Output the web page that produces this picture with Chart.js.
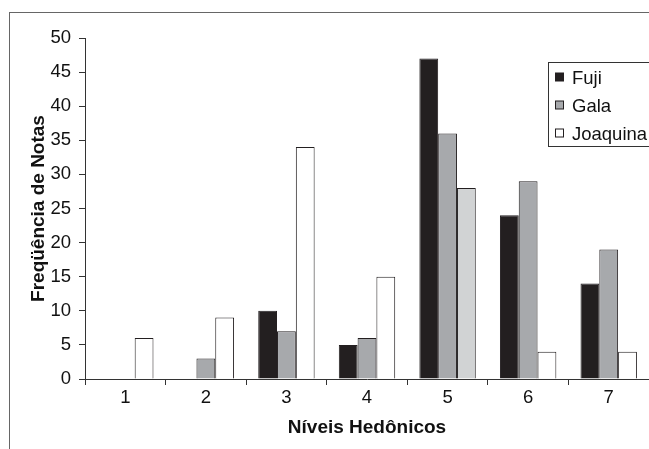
<!DOCTYPE html>
<html>
<head>
<meta charset="utf-8">
<script src="https://cdn.jsdelivr.net/npm/chart.js@4/dist/chart.umd.min.js"></script>
<style>
  html, body { margin: 0; padding: 0; background: #fff; overflow: hidden; }
  #wrap { position: relative; width: 649px; height: 449px; }
  #frame { position: absolute; left: 9px; top: 12px; width: 660px; height: 460px;
           border-top: 1px solid #666; border-left: 1px solid #666; pointer-events: none; }
  canvas { position: absolute; left: 0; top: 0; }
</style>
</head>
<body>
<div id="wrap">
  <canvas id="c" width="649" height="449"></canvas>
  <div id="frame"></div>
</div>
<script>
const categories = ['1', '2', '3', '4', '5', '6', '7'];
const fuji = [0, 0, 10, 5, 47, 24, 14];
const gala = [0, 3, 7, 6, 36, 29, 19];
const joaquina = [6, 9, 34, 15, 28, 4, 4];
const seriesNames = ['Fuji', 'Gala', 'Joaquina'];
const yTitle = 'Freqüência de Notas';
const xTitle = 'Níveis Hedônicos';

const FONT = "'Liberation Sans', Arial, sans-serif";
const EDGE = '#231f20';
const joaquinaColors = joaquina.map((v, i) => i === 4 ? '#d1d3d4' : '#ffffff');

const boxLegend = {
  id: 'boxLegend',
  afterDraw(chart) {
    const ctx = chart.ctx;
    const a = chart.chartArea;
    const x0 = a.right - 101, y0 = a.top + 24, w = 101, h = 84;
    ctx.save();
    ctx.fillStyle = '#fff';
    ctx.fillRect(x0, y0, w, h);
    ctx.strokeStyle = '#333';
    ctx.lineWidth = 1;
    ctx.strokeRect(x0 + 0.5, y0 + 0.5, w + 5, h);
    ctx.font = '18.5px ' + FONT;
    ctx.textBaseline = 'middle';
    chart.data.datasets.forEach((ds, i) => {
      const cy = y0 + 15.5 + i * 28;
      const bg = Array.isArray(ds.backgroundColor) ? ds.backgroundColor[0] : ds.backgroundColor;
      ctx.fillStyle = bg;
      ctx.fillRect(x0 + 7.5, cy - 4.5, 8, 8);
      ctx.strokeStyle = EDGE;
      ctx.strokeRect(x0 + 7.5, cy - 4.5, 8, 8);
      ctx.fillStyle = '#111';
      ctx.fillText(ds.label, x0 + 24, cy + 1);
    });
    ctx.restore();
  }
};

new Chart(document.getElementById('c'), {
  type: 'bar',
  data: {
    labels: categories,
    datasets: [
      { label: seriesNames[0], data: fuji, backgroundColor: '#231f20', borderColor: EDGE, borderWidth: 1 },
      { label: seriesNames[1], data: gala, backgroundColor: '#a7a9ac', borderColor: EDGE, borderWidth: 1 },
      { label: seriesNames[2], data: joaquina, backgroundColor: joaquinaColors, borderColor: EDGE, borderWidth: 1 }
    ]
  },
  options: {
    responsive: false,
    animation: false,
    devicePixelRatio: 1,
    layout: { padding: { left: 19, top: 38, right: 0, bottom: 0 } },
    datasets: { bar: { categoryPercentage: 0.7, barPercentage: 1.0 } },
    plugins: { legend: { display: false }, tooltip: { enabled: false } },
    scales: {
      x: {
        grid: { offset: true, drawOnChartArea: false, drawTicks: true, tickLength: 6, color: '#333' },
        border: { color: '#333', width: 1 },
        ticks: { color: '#111', font: { family: FONT, size: 18.5 }, padding: 2 },
        title: { display: true, text: xTitle, color: '#111', font: { family: FONT, size: 19, weight: 'bold' }, padding: { top: 2, bottom: 10 } },
        afterFit(s) { s.height = 70; }
      },
      y: {
        min: 0, max: 50,
        grid: { drawOnChartArea: false, drawTicks: true, tickLength: 6, color: '#333' },
        border: { color: '#333', width: 1 },
        ticks: { stepSize: 5, color: '#111', font: { family: FONT, size: 18.5 }, padding: 8 },
        title: { display: true, text: yTitle, color: '#111', font: { family: FONT, size: 19, weight: 'bold' }, padding: { top: 8, bottom: 0 } },
        afterFit(s) { s.width = 66; }
      }
    }
  },
  plugins: [boxLegend]
});
</script>
</body>
</html>
